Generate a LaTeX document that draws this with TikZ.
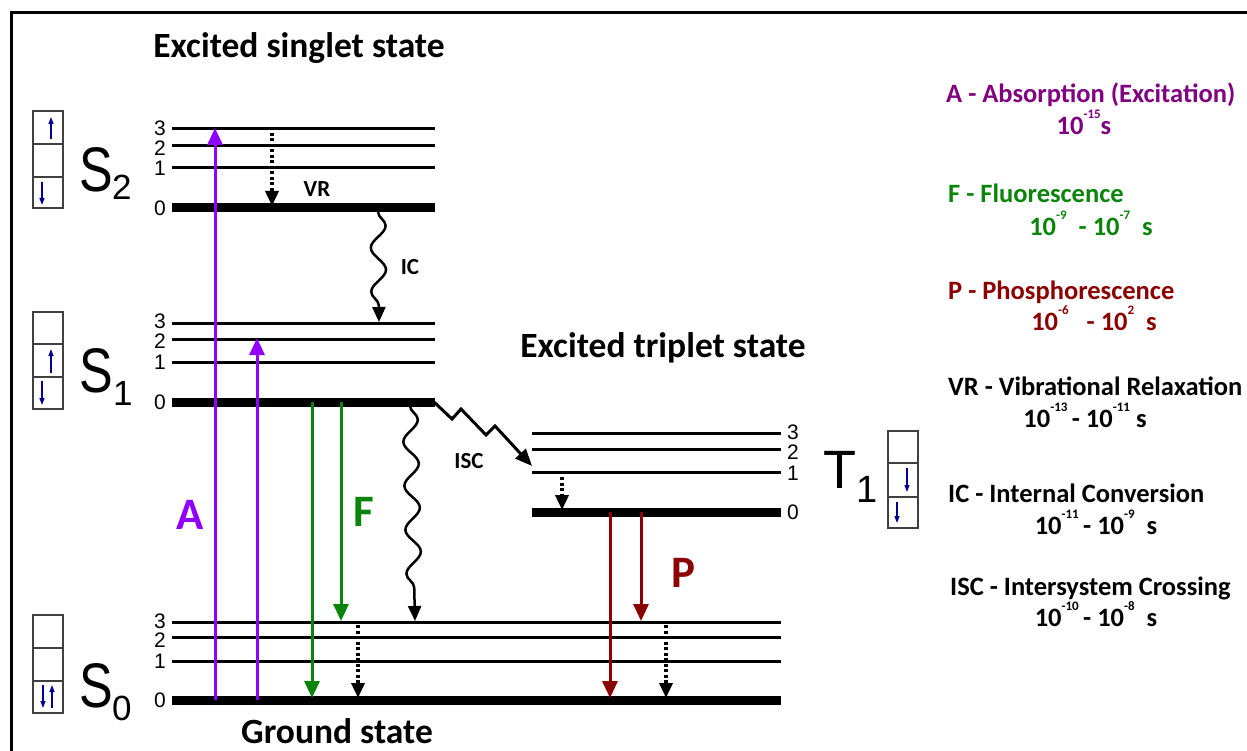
\documentclass[tikz,border=0pt]{standalone}
\usepackage{fontspec}
\setmainfont{Carlito}
\newfontfamily\arialf{Liberation Sans}
\usetikzlibrary{arrows.meta,decorations.pathmorphing}
\definecolor{absc}{RGB}{143,0,255}
\definecolor{abstxt}{RGB}{128,0,128}
\definecolor{fluc}{RGB}{10,132,10}
\definecolor{phoc}{RGB}{139,0,0}
\definecolor{spinc}{RGB}{0,0,150}
\newcommand\pw[1]{\raisebox{16pt}{\fontsize{13}{13}\selectfont #1}}
\newcommand\bigS{\scalebox{0.8}[1]{\arialf\fontsize{63}{63}\selectfont S}}
\begin{document}
\begin{tikzpicture}[x=1pt,y=-1pt,
  thinlevel/.style={line width=3pt},
  thicklevel/.style={line width=9pt},
  lvnum/.style={font=\arialf\fontsize{21}{21}\selectfont, inner sep=0pt},
  trans/.style={line width=3pt,-{Triangle[length=17pt,width=15pt]}},
  vrarrow/.style={line width=3.5pt, dash pattern=on 3pt off 2.5pt, -{Triangle[length=15pt,width=13pt]}},
  wave/.style={line width=2.5pt, decorate, decoration={snake, segment length=44pt, amplitude=7.5pt, post length=16pt}, -{Triangle[length=15pt,width=13pt]}},
  spin/.style={spinc, line width=1.3pt, -{Triangle[length=7pt,width=5pt]}},
  cell/.style={draw=black!75, line width=2pt},
  title/.style={font=\bfseries\fontsize{35.5}{35.5}\selectfont, inner sep=0pt, anchor=base},
  lab/.style={font=\bfseries\fontsize{23}{23}\selectfont, inner sep=0pt},
  biglab/.style={font=\bfseries\fontsize{45}{45}\selectfont, inner sep=0pt},
  leg/.style={font=\bfseries\fontsize{26.5}{26.5}\selectfont, inner sep=0pt, anchor=base west},
  legt/.style={font=\bfseries\fontsize{26.5}{26.5}\selectfont, inner sep=0pt, anchor=base},
  bigsym/.style={inner sep=0pt, anchor=base west},
  subnum/.style={font=\arialf\fontsize{35}{35}\selectfont, inner sep=0pt, anchor=base west}
]
\useasboundingbox (0,0) rectangle (1247,751);
% frame
\draw[line width=3pt, line join=miter] (11,751) -- (11,13) -- (1247,13);

% titles
\node[title] (tsing) at (299,58) {Excited singlet state};
\node[title] (ttrip) at (663,357) {Excited triplet state};
\node[title] (tground) at (337,743) {Ground state};

% S2 levels
\coordinate (s2l3) at (172,129); \coordinate (s2r3) at (435,129);
\coordinate (s2l2) at (172,146); \coordinate (s2r2) at (435,146);
\coordinate (s2l1) at (172,168); \coordinate (s2r1) at (435,168);
\coordinate (s2l0) at (172,208); \coordinate (s2r0) at (435,208);
\draw[thinlevel] (s2l3) -- (s2r3);
\draw[thinlevel] (s2l2) -- (s2r2);
\draw[thinlevel] (s2l1) -- (s2r1);
\draw[thicklevel] (s2l0) -- (s2r0);
\node[lvnum, anchor=east] (n23) at (166,128) {3};
\node[lvnum, anchor=east] (n22) at (166,148) {2};
\node[lvnum, anchor=east] (n21) at (166,168) {1};
\node[lvnum, anchor=east] (n20) at (166,208) {0};

% S1 levels
\coordinate (s1l3) at (172,323); \coordinate (s1r3) at (435,323);
\coordinate (s1l2) at (172,339); \coordinate (s1r2) at (435,339);
\coordinate (s1l1) at (172,362); \coordinate (s1r1) at (435,362);
\coordinate (s1l0) at (172,402); \coordinate (s1r0) at (435,402);
\draw[thinlevel] (s1l3) -- (s1r3);
\draw[thinlevel] (s1l2) -- (s1r2);
\draw[thinlevel] (s1l1) -- (s1r1);
\draw[thicklevel] (s1l0) -- (s1r0);
\node[lvnum, anchor=east] (n13) at (166,321.5) {3};
\node[lvnum, anchor=east] (n12) at (166,341) {2};
\node[lvnum, anchor=east] (n11) at (166,362) {1};
\node[lvnum, anchor=east] (n10) at (166,402) {0};

% S0 levels
\coordinate (s0l3) at (172,622); \coordinate (s0r3) at (781,622);
\coordinate (s0l2) at (172,637); \coordinate (s0r2) at (781,637);
\coordinate (s0l1) at (172,661); \coordinate (s0r1) at (781,661);
\coordinate (s0l0) at (172,700); \coordinate (s0r0) at (781,700);
\draw[thinlevel] (s0l3) -- (s0r3);
\draw[thinlevel] (s0l2) -- (s0r2);
\draw[thinlevel] (s0l1) -- (s0r1);
\draw[thicklevel] (s0l0) -- (s0r0);
\node[lvnum, anchor=east] (n03) at (166,621) {3};
\node[lvnum, anchor=east] (n02) at (166,640.5) {2};
\node[lvnum, anchor=east] (n01) at (166,661) {1};
\node[lvnum, anchor=east] (n00) at (166,700) {0};

% T1 levels
\coordinate (t1l3) at (532,433); \coordinate (t1r3) at (781,433);
\coordinate (t1l2) at (532,449); \coordinate (t1r2) at (781,449);
\coordinate (t1l1) at (532,472); \coordinate (t1r1) at (781,472);
\coordinate (t1l0) at (532,512); \coordinate (t1r0) at (781,512);
\draw[thinlevel] (t1l3) -- (t1r3);
\draw[thinlevel] (t1l2) -- (t1r2);
\draw[thinlevel] (t1l1) -- (t1r1);
\draw[thicklevel] (t1l0) -- (t1r0);
\node[lvnum, anchor=west] (m3) at (787,432) {3};
\node[lvnum, anchor=west] (m2) at (787,452) {2};
\node[lvnum, anchor=west] (m1) at (787,473) {1};
\node[lvnum, anchor=west] (m0) at (787,512) {0};

% state symbols
\node[bigsym] (S2) at (79,192) {\bigS};
\node[subnum] (S2i) at (112,200) {2};
\node[bigsym] (S1) at (79,392) {\bigS};
\node[subnum] (S1i) at (113,405) {1};
\node[bigsym] (S0) at (79,707) {\bigS};
\node[subnum] (S0i) at (112,720) {0};
\node[bigsym, font=\arialf\fontsize{54}{54}\selectfont] (T1) at (823,488) {T};
\node[subnum, font=\arialf\fontsize{38}{38}\selectfont] (T1i) at (856,502) {1};

% spin boxes
\draw[cell] (33,111) rectangle (63,144);
\draw[cell] (33,144) rectangle (63,177);
\draw[cell] (33,177) rectangle (63,208);
\draw[spin] (51,139) -- (51,117);
\draw[spin] (42,182) -- (42,205);

\draw[cell] (33,312) rectangle (63,344);
\draw[cell] (33,344) rectangle (63,377);
\draw[cell] (33,377) rectangle (63,409);
\draw[spin] (51,373) -- (51,349);
\draw[spin] (42,381) -- (42,405);

\draw[cell] (33,615) rectangle (63,648);
\draw[cell] (33,648) rectangle (63,681);
\draw[cell] (33,681) rectangle (63,713);
\draw[spin] (43,685) -- (43,708);
\draw[spin] (52,708) -- (52,685);

\draw[cell] (888,431) rectangle (918,463);
\draw[cell] (888,463) rectangle (918,497);
\draw[cell] (888,497) rectangle (918,528);
\draw[spin] (907,468) -- (907,492);
\draw[spin] (897,502) -- (897,523);

% absorption
\coordinate (a1s) at (215,700); \coordinate (a1e) at (215,128);
\coordinate (a2s) at (257,700); \coordinate (a2e) at (257,338);
\draw[trans, absc] (a1s) -- (a1e);
\draw[trans, absc] (a2s) -- (a2e);
\node[biglab, text=absc] (A) at (190,515) {A};

% fluorescence
\coordinate (f1s) at (312,402); \coordinate (f1e) at (312,698);
\coordinate (f2s) at (341,402); \coordinate (f2e) at (341,621);
\draw[trans, fluc] (f1s) -- (f1e);
\draw[trans, fluc] (f2s) -- (f2e);
\node[biglab, text=fluc] (F) at (364,512) {F};

% phosphorescence
\coordinate (p1s) at (610,512); \coordinate (p1e) at (610,698);
\coordinate (p2s) at (641,512); \coordinate (p2e) at (641,621);
\draw[trans, phoc] (p1s) -- (p1e);
\draw[trans, phoc] (p2s) -- (p2e);
\node[biglab, text=phoc] (P) at (683,573) {P};

% vibrational relaxation
\coordinate (v1s) at (272,133); \coordinate (v1e) at (272,206);
\coordinate (v2s) at (358,625); \coordinate (v2e) at (358,698);
\coordinate (v3s) at (666,625); \coordinate (v3e) at (666,698);
\coordinate (v4s) at (562,477); \coordinate (v4e) at (562,510);
\draw[vrarrow] (v1s) -- (v1e);
\draw[vrarrow] (v2s) -- (v2e);
\draw[vrarrow] (v3s) -- (v3e);
\draw[vrarrow] (v4s) -- (v4e);
\node[lab] (VR) at (317,189) {VR};

% internal conversion
\coordinate (ic1s) at (378,212); \coordinate (ic1e) at (379,322);
\coordinate (ic2s) at (410,406); \coordinate (ic2e) at (415,621);
\draw[wave] (ic1s) -- (ic1e);
\draw[wave] (ic2s) -- (ic2e);
\node[lab] (IC) at (410,267) {IC};

% intersystem crossing
\coordinate (iscs) at (434,402); \coordinate (isce) at (532,466);
\draw[line width=3pt, line join=miter, -{Triangle[length=17pt,width=14pt]}]
  (iscs) -- (452,419) -- (461,409) -- (486,435) -- (495,426) -- (isce);
\node[lab] (ISC) at (469,461) {ISC};

% legend
\node[leg, text=abstxt] (lA) at (946,103) {A - Absorption (Excitation)};
\node[legt, text=abstxt] (lA2) at (1084,135) {10\pw{-15}s};
\node[leg, text=fluc] (lF) at (948,203) {F - Fluorescence};
\node[legt, text=fluc] (lF2) at (1091,236) {10\pw{-9}\ \ - 10\pw{-7}\ \ s};
\node[leg, text=phoc] (lP) at (948,299) {P - Phosphorescence};
\node[legt, text=phoc] (lP2) at (1094,330) {10\pw{-6}\ \ \ - 10\pw{2}\ \ s};
\node[leg] (lVR) at (948,395) {VR - Vibrational Relaxation};
\node[legt] (lVR2) at (1085,427) {10\pw{-13}\,- 10\pw{-11}\ s};
\node[leg] (lIC) at (948,502) {IC - Internal Conversion};
\node[legt] (lIC2) at (1096,534) {10\pw{-11}\,- 10\pw{-9}\ \ s};
\node[leg] (lISC) at (950,595) {ISC - Intersystem Crossing};
\node[legt] (lISC2) at (1096,626) {10\pw{-10}\,- 10\pw{-8}\ \ s};
\end{tikzpicture}
\end{document}
